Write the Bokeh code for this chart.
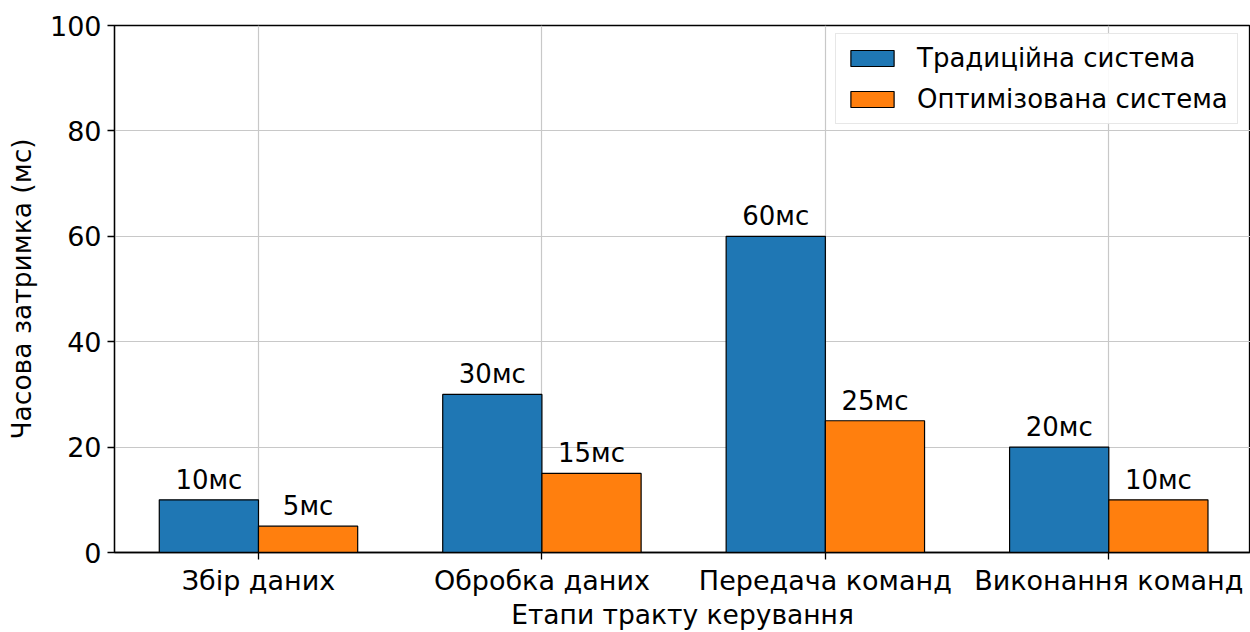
from bokeh.plotting import figure
from bokeh.models import FixedTicker, Range1d, Legend, LegendItem
from bokeh.core.properties import value
from bokeh.embed import file_html
from bokeh.resources import INLINE

stages = ["Збір даних", "Обробка даних", "Передача команд", "Виконання команд"]
traditional = [10, 30, 60, 20]
optimized = [5, 15, 25, 10]
series_names = ["Традиційна система", "Оптимізована система"]
y_ticks = [0, 20, 40, 60, 80, 100]

FONT = "DejaVu Sans"
bar_w = 0.35
idx = list(range(len(stages)))

p = figure(width=1250, height=632, output_backend="svg", toolbar_location=None,
           x_range=Range1d(-0.508, 3.5), y_range=Range1d(0, 100),
           min_border_left=114, min_border_right=0, min_border_top=25,
           min_border_bottom=78)
p.background_fill_color = "white"
p.border_fill_color = "white"
p.outline_line_color = "black"
p.outline_line_width = 1.3

x_trad = [i - bar_w / 2 for i in idx]
x_opt = [i + bar_w / 2 for i in idx]
r1 = p.vbar(x=x_trad, top=traditional, width=bar_w, bottom=0,
            fill_color="#1f77b4", line_color="black", line_width=1.2)
r2 = p.vbar(x=x_opt, top=optimized, width=bar_w, bottom=0,
            fill_color="#ff7f0e", line_color="black", line_width=1.2)

# value labels just above each bar
lab_style = dict(text_align="center", text_baseline="bottom", y_offset=-5,
                 text_font=value(FONT), text_font_size="26px", text_color="black")
p.text(x=x_trad, y=traditional, text=[f"{v}мс" for v in traditional], **lab_style)
p.text(x=x_opt, y=optimized, text=[f"{v}мс" for v in optimized], **lab_style)

p.xaxis.ticker = FixedTicker(ticks=idx)
p.xaxis.major_label_overrides = {i: s for i, s in enumerate(stages)}
p.yaxis.ticker = FixedTicker(ticks=y_ticks)
p.xgrid.ticker = FixedTicker(ticks=idx)
p.ygrid.ticker = FixedTicker(ticks=y_ticks)
p.grid.grid_line_color = "#c8c8c8"
p.grid.grid_line_width = 1.2

for ax in (p.xaxis, p.yaxis):
    ax.axis_line_color = "black"
    ax.axis_line_width = 1.3
    ax.major_tick_line_color = "black"
    ax.major_tick_line_width = 1.3
    ax.major_tick_out = 7
    ax.major_tick_in = 0
    ax.minor_tick_line_color = None
    ax.major_label_text_font = FONT
    ax.major_label_text_font_size = "27px"
    ax.major_label_text_color = "black"
    ax.axis_label_text_font = FONT
    ax.axis_label_text_font_size = "26.5px"
    ax.axis_label_text_font_style = "normal"
    ax.axis_label_text_color = "black"

p.xaxis.axis_label = "Етапи тракту керування"
p.yaxis.axis_label = "Часова затримка (мс)"
p.xaxis.major_label_standoff = 5
p.yaxis.major_label_standoff = 6
p.xaxis.axis_label_standoff = 0
p.yaxis.axis_label_standoff = 10

legend = Legend(items=[LegendItem(label=series_names[0], renderers=[r1]),
                       LegendItem(label=series_names[1], renderers=[r2])],
                location=(721, 428))
legend.label_text_font = FONT
legend.label_text_font_size = "26px"
legend.label_text_color = "black"
legend.glyph_width = 54
legend.glyph_height = 20
legend.label_standoff = 18
legend.spacing = 11
legend.padding = 9
legend.border_line_color = "#d0d0d0"
legend.border_line_width = 1.2
legend.background_fill_alpha = 0.9
p.add_layout(legend)

open("out.html", "w").write(file_html(p, INLINE))
